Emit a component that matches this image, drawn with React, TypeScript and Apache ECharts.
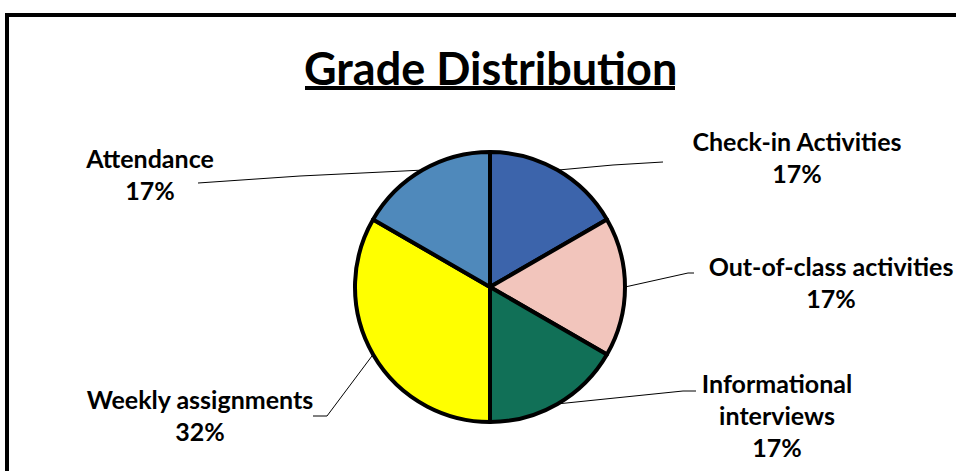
import React, { useEffect, useRef } from "react";
import * as echarts from "echarts";

const categories = [
  "Check-in Activities",
  "Out-of-class activities",
  "Informational interviews",
  "Weekly assignments",
  "Attendance",
];
// slice shares (sixths; weekly = two sixths)
const sliceValues = [17, 17, 17, 34, 17];
// percentages as printed on the data labels
const percentLabels = ["17%", "17%", "17%", "32%", "17%"];
const displayNames = [
  "Check-in Activities",
  "Out-of-class activities",
  "Informational\ninterviews",
  "Weekly assignments",
  "Attendance",
];
const colors = ["#3C64AB", "#F2C5BC", "#117057", "#FFFF00", "#4F89BB"];

// label block centers and label-line bend/end points (layout only)
const labelCenters = [
  [797, 157],
  [831, 282],
  [777, 415],
  [200, 415],
  [150, 174],
];
const lineBends = [
  [613, 165],
  [688, 273],
  [683, 391],
  [327, 416],
  [300, 176],
];
const lineEnds = [
  [663, 162],
  [694, 273],
  [696, 391],
  [313, 416],
  [198, 183],
];

export default function App() {
  const ref = useRef<HTMLDivElement>(null);
  useEffect(() => {
    document.body.style.margin = "0";
    const chart = echarts.init(ref.current!, null, { renderer: "svg" });
    const font = "Lato";
    chart.setOption({
      animation: false,
      backgroundColor: "#ffffff",
      title: {
        text: "Grade Distribution",
        left: 299,
        top: 40,
        textStyle: {
          fontFamily: font,
          fontWeight: "bold",
          fontSize: 45,
          color: "#000",
        },
      },
      graphic: [
        {
          type: "rect",
          shape: { x: 7, y: 15, width: 1200, height: 1200 },
          style: { fill: "none", stroke: "#000", lineWidth: 4 },
          silent: true,
        },
        {
          type: "line",
          shape: { x1: 305, y1: 88, x2: 675, y2: 88 },
          style: { stroke: "#000", lineWidth: 4 },
          silent: true,
        },
      ],
      series: [
        {
          type: "pie",
          center: [490, 287],
          radius: 135,
          startAngle: 90,
          clockwise: true,
          itemStyle: { borderColor: "#000", borderWidth: 4 },
          label: {
            show: true,
            fontFamily: font,
            fontWeight: "bold",
            fontSize: 25,
            lineHeight: 32,
            color: "#000",
            align: "center",
            formatter: (p: any) =>
              displayNames[p.dataIndex] + "\n" + percentLabels[p.dataIndex],
          },
          labelLine: {
            show: true,
            lineStyle: { color: "#000", width: 1 },
            smooth: false,
          },
          labelLayout: (params: any) => {
            const i = params.dataIndex;
            const p0 =
              params.labelLinePoints && params.labelLinePoints[0]
                ? params.labelLinePoints[0]
                : lineBends[i];
            return {
              x: labelCenters[i][0],
              y: labelCenters[i][1],
              align: "center",
              verticalAlign: "middle",
              labelLinePoints: [p0, lineBends[i], lineEnds[i]],
            };
          },
          emphasis: { disabled: true },
          data: categories.map((c, i) => ({
            name: c,
            value: sliceValues[i],
            itemStyle: { color: colors[i] },
          })),
        },
      ],
    });
    return () => chart.dispose();
  }, []);
  return (
    <div
      ref={ref}
      style={{ position: "fixed", left: 0, top: 0, width: 956, height: 471 }}
    />
  );
}
